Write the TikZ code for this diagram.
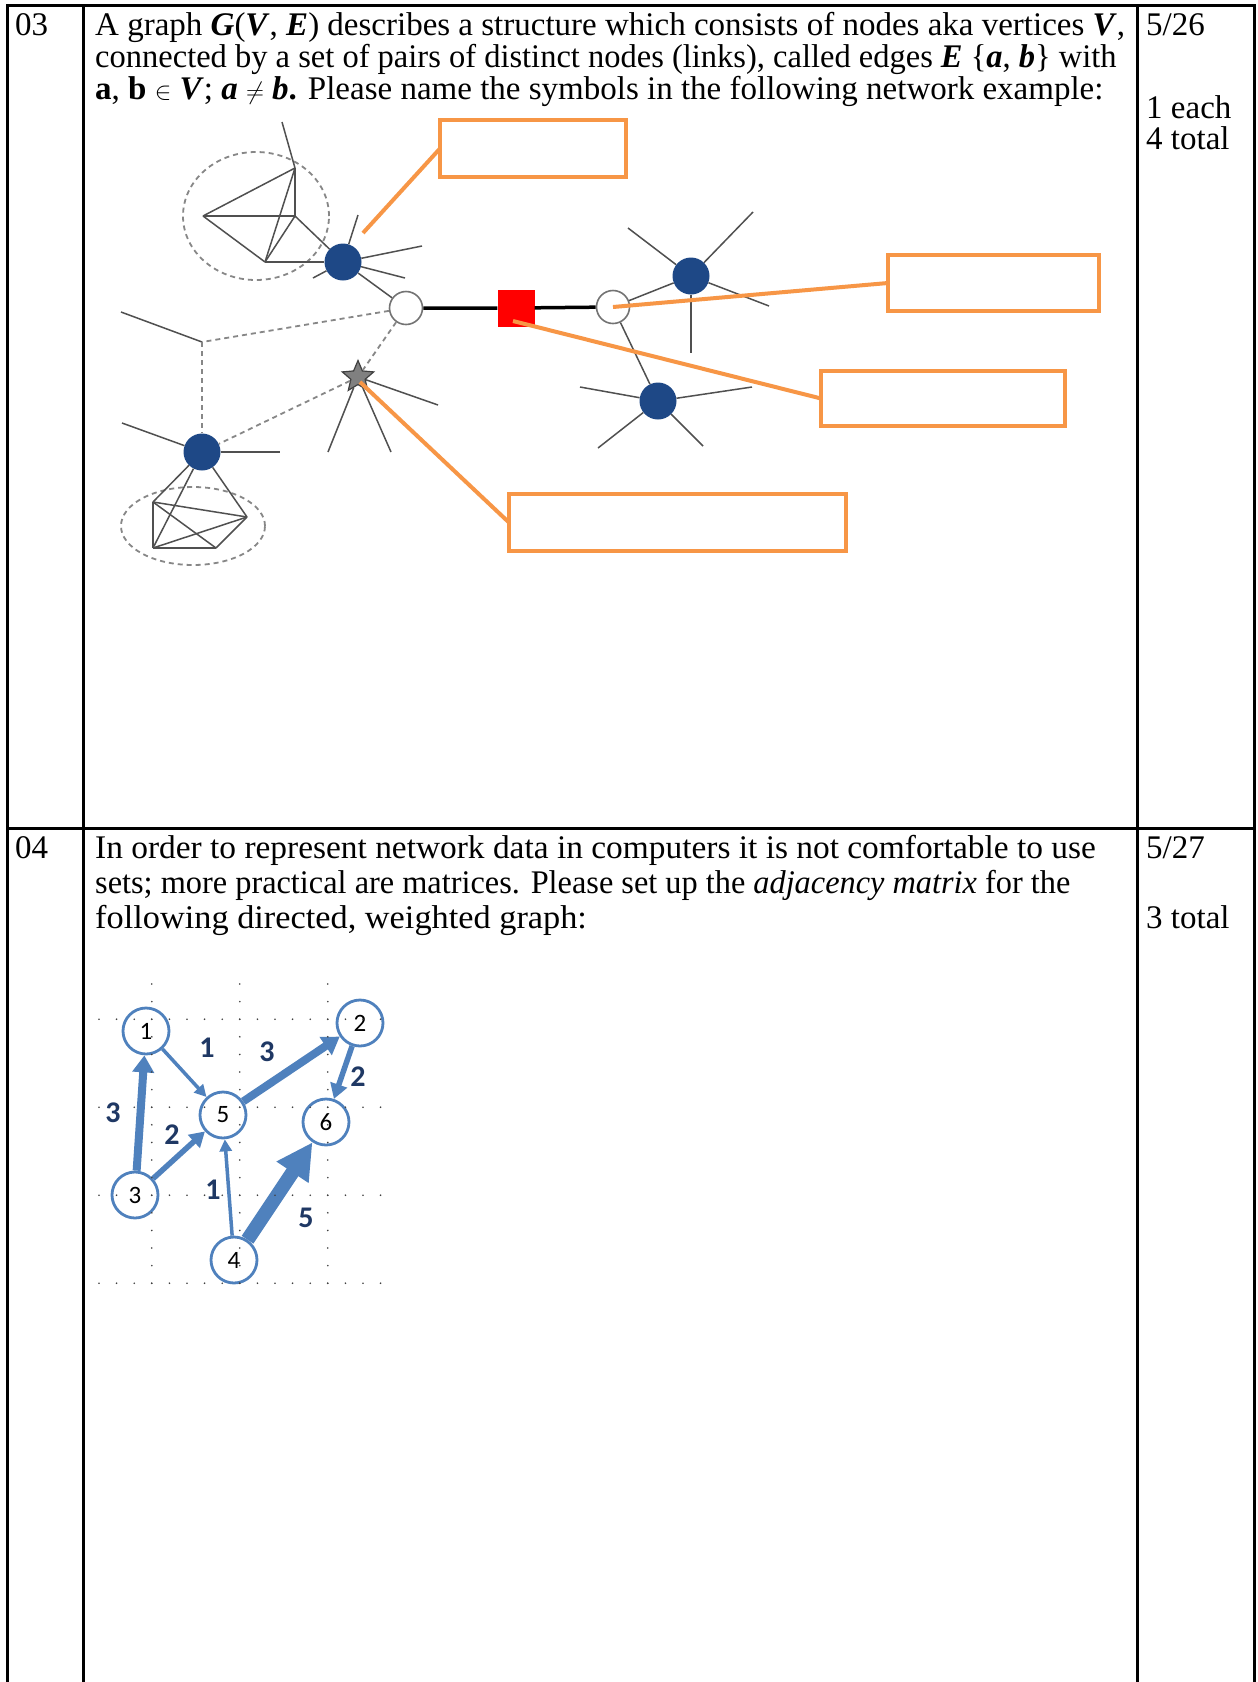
\documentclass[tikz,border=0pt]{standalone}
\usepackage{fontspec}
\setmainfont{Liberation Serif}
\newfontfamily\calibri{Carlito}
\usetikzlibrary{shapes.geometric,arrows.meta}
\definecolor{orng}{RGB}{247,150,70}
\definecolor{navy}{RGB}{30,72,134}
\definecolor{gblue}{RGB}{79,129,189}
\definecolor{wblue}{RGB}{31,56,100}
\definecolor{edgegray}{RGB}{80,80,80}
\definecolor{dashgray}{RGB}{135,135,135}
\newcommand{\bfit}[1]{\textbf{\textit{#1}}}
\begin{document}
\begin{tikzpicture}[x=1pt,y=-1pt,
  txt/.style={anchor=base west,inner sep=0pt,font=\fontsize{33}{37}\selectfont},
  frame/.style={line width=3pt,black},
  gl/.style={draw=edgegray,line width=1.5pt},
  dl/.style={draw=dashgray,line width=1.8pt,dash pattern=on 5pt off 4pt},
  bnode/.style={circle,fill=navy,minimum size=37pt,inner sep=0pt},
  wnode/.style={circle,fill=white,draw=black!55,line width=1.6pt,minimum size=33pt,inner sep=0pt},
  ansbox/.style={draw=orng,line width=4pt,fill=white,inner sep=0pt,outer sep=0pt},
  pointer/.style={draw=orng,line width=4pt},
  gnode/.style={circle,draw=gblue,line width=2.8pt,fill=white,minimum size=46pt,inner sep=0pt,font=\calibri\fontsize{25}{25}\selectfont},
  wlab/.style={font=\calibri\bfseries\fontsize{30}{30}\selectfont,text=wblue,inner sep=0pt},
  gedge/.style={draw=gblue}
]
\fill[white] (0,0) rectangle (1258,1682);
\path[use as bounding box] (0,0) rectangle (1258,1682);

% ---------- table frame ----------
\coordinate (TL) at (7,5);
\coordinate (TR) at (1254.5,5);
\coordinate (BL) at (7,1682);
\coordinate (BR) at (1254.5,1682);
\coordinate (S1t) at (83,5);
\coordinate (S1b) at (83,1682);
\coordinate (S2t) at (1137,5);
\coordinate (S2b) at (1137,1682);
\coordinate (Rl) at (7,828);
\coordinate (Rr) at (1254.5,828);
\draw[frame] (BL) -- (TL) -- (TR) -- (BR);
\draw[frame] (S1t) -- (S1b);
\draw[frame] (S2t) -- (S2b);
\draw[frame] (Rl) -- (Rr);

% ---------- row 03 text ----------
\node[txt] (n03) at (15,35) {03};
\node[txt] (q1l1) at (95,35) {A graph \bfit{G}(\bfit{V}, \bfit{E}) describes a structure which consists of nodes aka vertices \bfit{V},};
\node[txt] (q1l2) at (95,67) {\scalebox{0.985}[1]{connected by a set of pairs of distinct nodes (links), called edges \bfit{E} \{\bfit{a}, \bfit{b}\} with}};
\node[txt] (q1l3) at (95,99) {\textbf{a}, \textbf{b} $\in$ \bfit{V}; \bfit{a} $\neq$ \bfit{b}\textbf{.} Please name the symbols in the following network example:};
\node[txt] (p1a) at (1146,35) {5/26};
\node[txt] (p1b) at (1146,118) {1 each};
\node[txt] (p1c) at (1146,149) {4 total};

% ---------- row 04 text ----------
\node[txt] (n04) at (15,858) {04};
\node[txt] (q2l1) at (95,858) {\scalebox{1.012}[1]{In order to represent network data in computers it is not comfortable to use}};
\node[txt] (q2l2) at (95,893) {\scalebox{0.98}[1]{sets; more practical are matrices. Please set up the \textit{adjacency matrix} for the}};
\node[txt] (q2l3) at (95,928) {\scalebox{1.04}[1]{following directed, weighted graph:}};
\node[txt] (p2a) at (1146,858) {5/27};
\node[txt] (p2b) at (1146,928) {3 total};

% ---------- network example ----------
% cluster 1
\coordinate (A) at (295,168);
\coordinate (At) at (282,122);
\coordinate (B) at (203,216);
\coordinate (C) at (295,216);
\coordinate (D) at (265,262);
\node[draw=dashgray,line width=1.8pt,dash pattern=on 5pt off 4pt,ellipse,minimum width=146pt,minimum height=128pt,inner sep=0pt] (ell1) at (256,216) {};
% cluster 2
\coordinate (E1) at (153,502);
\coordinate (E2) at (247,517);
\coordinate (E3) at (216,548);
\coordinate (E4) at (153,548);
\node[draw=dashgray,line width=1.8pt,dash pattern=on 5pt off 4pt,ellipse,minimum width=144pt,minimum height=78pt,inner sep=0pt] (ell2) at (193,526) {};

% nodes
\node[bnode] (N1) at (343,262) {};
\node[wnode] (W1) at (406,308) {};
\node[rectangle,fill=red,minimum size=37pt,inner sep=0pt] (R) at (516,308) {};
\node[wnode] (W2) at (613,307) {};
\node[bnode] (N2) at (691,276) {};
\node[bnode] (N3) at (658,401) {};
\node[bnode] (N4) at (202,452) {};
\node[star,star points=5,star point ratio=2.2,fill=black!50,draw=black!75,line width=1.2pt,minimum size=33pt,inner sep=0pt] (S) at (358,377) {};
\coordinate (P) at (202,342);

% free spoke ends
\coordinate (s11) at (358,215);
\coordinate (s12) at (422,246);
\coordinate (s13) at (405,278);
\coordinate (s14) at (313,278);
\coordinate (s21) at (628,228);
\coordinate (s22) at (753,212);
\coordinate (s23) at (769,306);
\coordinate (s24) at (691,353);
\coordinate (s31) at (580,387);
\coordinate (s32) at (752,387);
\coordinate (s33) at (598,448);
\coordinate (s34) at (703,446);
\coordinate (s41) at (122,423);
\coordinate (s42) at (280,452);
\coordinate (ss1) at (328,452);
\coordinate (ss2) at (391,452);
\coordinate (ss3) at (438,405);
\coordinate (pl) at (121,312);

% cluster 1 edges
\draw[gl] (A) -- (At);
\draw[gl] (A) -- (B);
\draw[gl] (A) -- (C);
\draw[gl] (A) -- (D);
\draw[gl] (B) -- (C);
\draw[gl] (B) -- (D);
\draw[gl] (C) -- (D);
\draw[gl] (C) -- (N1);
\draw[gl] (D) -- (N1);
% cluster 2 edges
\draw[gl] (N4) -- (E1);
\draw[gl] (N4) -- (E4);
\draw[gl] (N4) -- (E2);
\draw[gl] (E1) -- (E2);
\draw[gl] (E1) -- (E3);
\draw[gl] (E1) -- (E4);
\draw[gl] (E4) -- (E2);
\draw[gl] (E4) -- (E3);
\draw[gl] (E3) -- (E2);
% spokes
\foreach \e in {s11,s12,s13,s14}{\draw[gl] (N1) -- (\e);}
\foreach \e in {s21,s22,s23,s24}{\draw[gl] (N2) -- (\e);}
\foreach \e in {s31,s32,s33,s34}{\draw[gl] (N3) -- (\e);}
\foreach \e in {s41,s42}{\draw[gl] (N4) -- (\e);}
\foreach \e in {ss1,ss2,ss3}{\draw[gl] (S) -- (\e);}
\draw[gl] (N1) -- (W1);
\draw[gl] (W2) -- (N2);
\draw[gl] (W2) -- (N3);
\draw[gl] (P) -- (pl);
% bridge
\draw[black,line width=3.5pt] (W1) -- (R) -- (W2);
% dashed links
\draw[dl] (W1) -- (P);
\draw[dl] (P) -- (N4);
\draw[dl] (W1) -- (S);
\draw[dl] (S) -- (N4);

% answer boxes and pointers
\coordinate (p1) at (363,233);
\coordinate (p3) at (513,321);
\coordinate (p4) at (360,382);
\node[ansbox,minimum width=186pt,minimum height=57pt] (box1) at (533,148.5) {};
\node[ansbox,minimum width=211pt,minimum height=56pt] (box2) at (993.5,283) {};
\node[ansbox,minimum width=244pt,minimum height=55pt] (box3) at (943,398.5) {};
\node[ansbox,minimum width=337pt,minimum height=57pt] (box4) at (677.5,522.5) {};
\draw[pointer] (box1.west) -- (p1);
\draw[pointer] (W2.center) -- (box2.west);
\draw[pointer] (p3) -- (box3.west);
\draw[pointer] (p4) -- (box4.west);

% ---------- directed weighted graph ----------
\node[gnode] (g1) at (146,1031) {1};
\node[gnode] (g2) at (360,1023) {2};
\node[gnode] (g5) at (223,1115) {5};
\node[gnode] (g6) at (326,1122) {6};
\node[gnode] (g3) at (135,1195) {3};
\node[gnode] (g4) at (234,1260) {4};

\draw[gedge,line width=3.5pt,-{Triangle[length=12pt,width=12pt]}] (g1) -- (g5);
\draw[gedge,line width=8pt,-{Triangle[length=17pt,width=21pt]}] (g5) -- (g2);
\draw[gedge,line width=5.5pt,-{Triangle[length=15pt,width=17pt]}] (g2) -- (g6);
\draw[gedge,line width=8pt,-{Triangle[length=17pt,width=21pt]}] (g3) -- (g1);
\draw[gedge,line width=5.5pt,-{Triangle[length=15pt,width=17pt]}] (g3) -- (g5);
\draw[gedge,line width=3.5pt,-{Triangle[length=12pt,width=12pt]}] (g4) -- (g5);
\draw[gedge,line width=14pt,-{Triangle[length=36pt,width=36pt]}] (g4) -- (g6);

\node[wlab] (w15) at (207,1048) {1};
\node[wlab] (w52) at (267,1052) {3};
\node[wlab] (w26) at (358,1077) {2};
\node[wlab] (w31) at (113,1113) {3};
\node[wlab] (w35) at (172,1135) {2};
\node[wlab] (w45) at (213,1190) {1};
\node[wlab] (w46) at (306,1218) {5};

% dotted grid
\foreach \yy in {1019.2,1107.2,1195.2,1283.2}{
  \foreach \i in {0,...,16}{\fill[black!75] (99+17.6*\i,\yy) circle (0.9pt);}
}
\foreach \xx in {151.8,239.8,327.8}{
  \foreach \j in {0,...,17}{\fill[black!75] (\xx,984+17.6*\j) circle (0.9pt);}
}
\end{tikzpicture}
\end{document}
